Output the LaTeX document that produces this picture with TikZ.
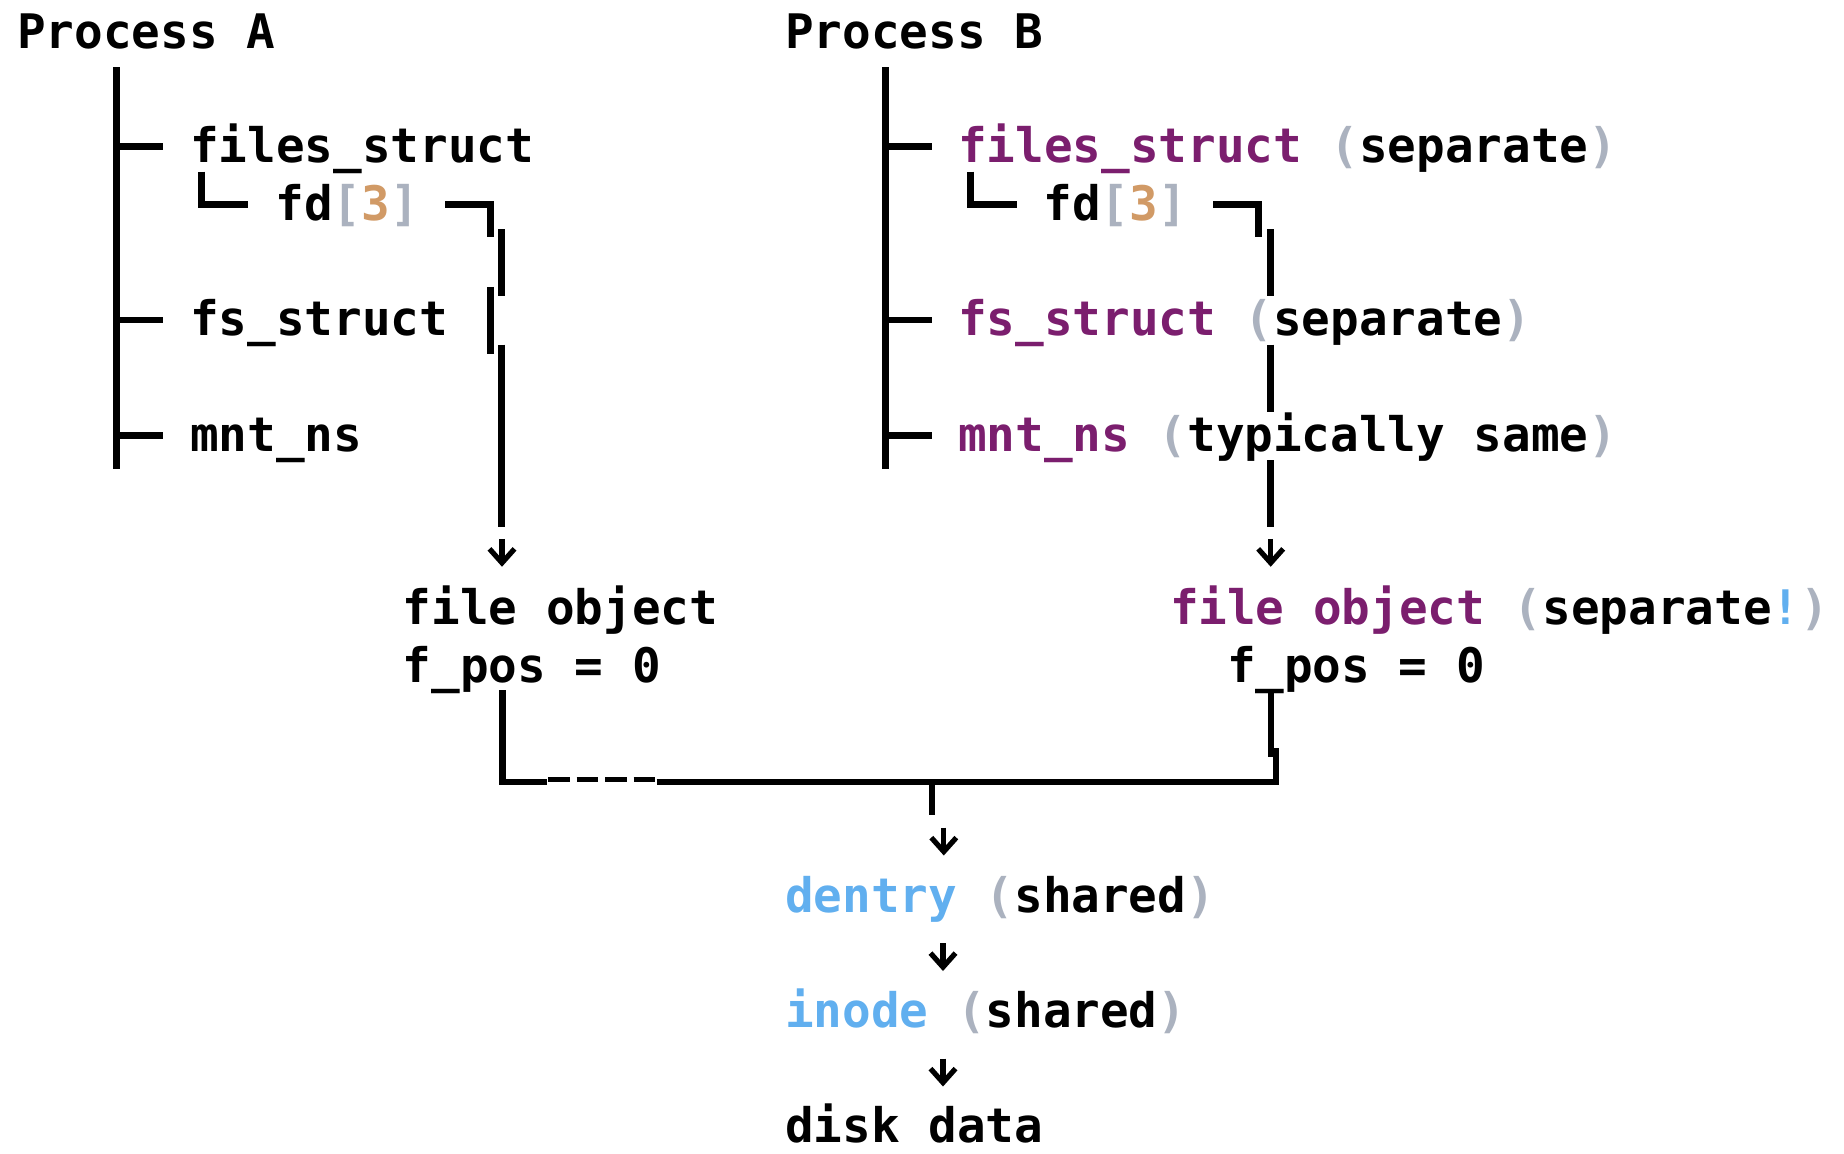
\documentclass[tikz,border=0pt]{standalone}
\usepackage{fontspec}
\usetikzlibrary{arrows.meta}

% Monospaced bold face for all labels
\newfontfamily\codefont{DejaVu Sans Mono}

% Syntax colours
\definecolor{kwpurple}{HTML}{7B1E6E}
\definecolor{punctgray}{HTML}{ABB2BF}
\definecolor{numorange}{HTML}{D19A66}
\definecolor{idblue}{HTML}{61AFEF}
\newcommand\kwd[1]{\textcolor{kwpurple}{#1}}
\newcommand\pun[1]{\textcolor{punctgray}{#1}}
\newcommand\numv[1]{\textcolor{numorange}{#1}}
\newcommand\ident[1]{\textcolor{idblue}{#1}}

\begin{document}
\begin{tikzpicture}[x=0.5pt,y=-0.5pt,
  codetext/.style={anchor=base west, inner sep=0pt, outer sep=0pt,
    font=\codefont\bfseries\fontsize{23.8pt}{28pt}\selectfont},
  boxline/.style={line width=3.25pt, line cap=butt, line join=miter},
  hyphseg/.style={line width=2.5pt, line cap=butt},
  arrowdown/.style={line width=2.6pt, -{Straight Barb[length=7pt,width=12.5pt]}}]
\useasboundingbox[fill=white] (0,0) rectangle (1844,1153);

% ---------- labels ----------
\node[codetext] (procA) at (17.2,48) {Process A};
\node[codetext] (procB) at (785.1,48) {Process B};

\node[codetext] (filesA) at (190.2,162.5) {files\_struct};
\node[codetext] (fdA)    at (275.6,220.25) {fd\pun{[}\numv{3}\pun{]}};
\node[codetext] (fsA)    at (190.2,335.75) {fs\_struct};
\node[codetext] (mntA)   at (190.2,451.25) {mnt\_ns};

\node[codetext] (filesB) at (958.1,162.5) {\kwd{files\_struct} \pun{(}separate\pun{)}};
\node[codetext] (fdB)    at (1043.4,220.25) {fd\pun{[}\numv{3}\pun{]}};
\node[codetext] (fsB)    at (958.1,335.75) {\kwd{fs\_struct} \pun{(}separate\pun{)}};
\node[codetext] (mntB)   at (958.1,451.25) {\kwd{mnt\_ns} \pun{(}typically same\pun{)}};

\node[codetext] (fileA)  at (402.9,624.5) {file object};
\node[codetext] (posA)   at (402.9,682.25) {f\_pos = 0};
\node[codetext] (fileB)  at (1170,624.5) {\kwd{file object} \pun{(}separate\ident{!}\pun{)}};
\node[codetext] (posB)   at (1227,682.25) {f\_pos = 0};

\node[codetext] (dentry) at (785.1,912.25) {\ident{dentry} \pun{(}shared\pun{)}};
\node[codetext] (inode)  at (785.1,1027.75) {\ident{inode} \pun{(}shared\pun{)}};
\node[codetext] (disk)   at (785.1,1142.25) {disk data};

% ---------- process A tree ----------
\coordinate (treeAtop) at (116.7,67);
\coordinate (treeAbot) at (116.7,469.25);
\draw[boxline] (treeAtop) -- (treeAbot);
\foreach \y in {146.5,319.75,435.25}
  \draw[boxline] (116.7,\y) -- (163,\y);
\draw[boxline] (201.7,171.7) |- (248,204.25);
\draw[boxline] (445,204.25) -| (490.3,237.25);
\draw[boxline] (501.7,229) -- (501.7,296);
\draw[boxline] (490.7,286.75) -- (490.7,353.75);
\draw[boxline] (501.7,344.5) -- (501.7,527);
\coordinate (arrAtop) at (502,538.75);
\coordinate (arrAend) at (502,566.75);
\draw[arrowdown] (arrAtop) -- (arrAend);

% ---------- process B tree ----------
\coordinate (treeBtop) at (885.5,67);
\coordinate (treeBbot) at (885.5,469.25);
\draw[boxline] (treeBtop) -- (treeBbot);
\foreach \y in {146.5,319.75,435.25}
  \draw[boxline] (885.5,\y) -- (931.7,\y);
\draw[boxline] (970.7,171.7) |- (1017.3,204.25);
\draw[boxline] (1213.3,204.25) -| (1258.3,237.25);
\draw[boxline] (1270.7,229) -- (1270.7,296);
\draw[boxline] (1270.7,344.5) -- (1270.7,411.5);
\draw[boxline] (1270.7,460) -- (1270.7,527);
\coordinate (arrBtop) at (1270.7,538.75);
\coordinate (arrBend) at (1270.7,566.75);
\draw[arrowdown] (arrBtop) -- (arrBend);

% ---------- both file objects join ----------
\draw[boxline] (502.5,690) |- (546.7,781.75);
\foreach \x in {548.3,576.7,605.2,633.7}
  \draw[hyphseg] (\x,779.8) -- ++(21.7,0);
\draw[boxline] (656.7,781.75) -| (1276,747.7);
\draw[boxline] (1270.8,690) -- (1270.8,757.3);
\draw[boxline] (932,781.75) -- (932,814.75);

% ---------- shared objects ----------
\coordinate (arrJtop) at (943.8,827.5);
\coordinate (arrJend) at (943.8,855.5);
\draw[arrowdown] (arrJtop) -- (arrJend);
\coordinate (arrDtop) at (943,943);
\coordinate (arrDend) at (943,971);
\draw[arrowdown] (arrDtop) -- (arrDend);
\coordinate (arrItop) at (943,1058.5);
\coordinate (arrIend) at (943,1086.5);
\draw[arrowdown] (arrItop) -- (arrIend);
\end{tikzpicture}
\end{document}
